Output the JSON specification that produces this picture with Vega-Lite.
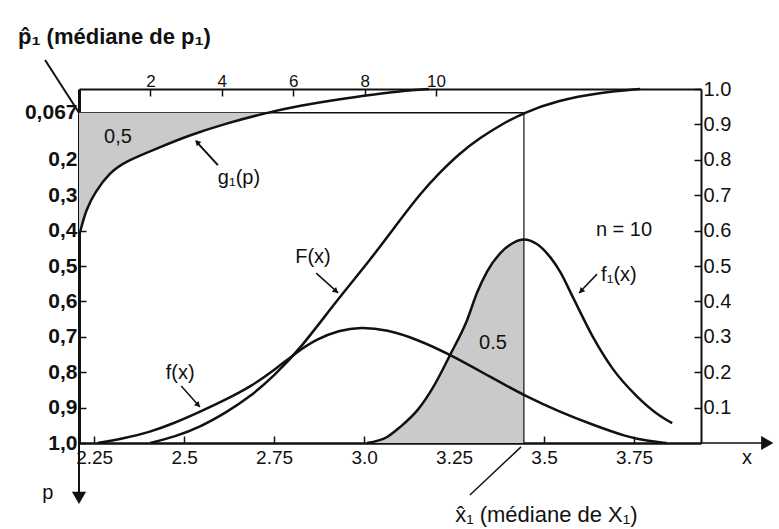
{
  "$schema": "https://vega.github.io/schema/vega-lite/v6.json",
  "width": 622,
  "height": 354,
  "autosize": {"type": "none"},
  "padding": {"left": 79, "top": 89, "right": 78, "bottom": 86},
  "background": "white",
  "config": {
    "view": {"stroke": null},
    "font": "Liberation Sans",
    "axis": {"grid": false, "domainColor": "#111", "tickColor": "#111", "labelColor": "#111", "title": null,
      "labelOverlap": false, "labelFlush": false, "labelBound": false}
  },
  "datasets": {
    "F": [
      {"x": 2.406, "y": 0}, {"x": 2.475, "y": 0.018}, {"x": 2.544, "y": 0.045}, {"x": 2.615, "y": 0.085},
      {"x": 2.683, "y": 0.13}, {"x": 2.75, "y": 0.19}, {"x": 2.822, "y": 0.265},
      {"x": 2.925, "y": 0.404}, {"x": 3.017, "y": 0.517}, {"x": 3.1, "y": 0.63}, {"x": 3.155, "y": 0.703},
      {"x": 3.211, "y": 0.765}, {"x": 3.265, "y": 0.818}, {"x": 3.322, "y": 0.862}, {"x": 3.385, "y": 0.902},
      {"x": 3.444, "y": 0.933}, {"x": 3.536, "y": 0.967}, {"x": 3.656, "y": 0.99}, {"x": 3.767, "y": 1.0}
    ],
    "f": [
      {"x": 2.26, "y": 0}, {"x": 2.33, "y": 0.012}, {"x": 2.406, "y": 0.031}, {"x": 2.475, "y": 0.057},
      {"x": 2.544, "y": 0.088}, {"x": 2.615, "y": 0.122}, {"x": 2.683, "y": 0.158}, {"x": 2.75, "y": 0.205},
      {"x": 2.814, "y": 0.258}, {"x": 2.869, "y": 0.294}, {"x": 2.93, "y": 0.318}, {"x": 2.989, "y": 0.328},
      {"x": 3.064, "y": 0.32}, {"x": 3.147, "y": 0.293}, {"x": 3.239, "y": 0.25}, {"x": 3.35, "y": 0.187},
      {"x": 3.453, "y": 0.13}, {"x": 3.544, "y": 0.088}, {"x": 3.636, "y": 0.051}, {"x": 3.731, "y": 0.017},
      {"x": 3.786, "y": 0.006}, {"x": 3.84, "y": 0}
    ],
    "f1": [
      {"x": 3.008, "y": 0}, {"x": 3.064, "y": 0.017}, {"x": 3.1, "y": 0.045}, {"x": 3.15, "y": 0.095},
      {"x": 3.192, "y": 0.158}, {"x": 3.239, "y": 0.249}, {"x": 3.286, "y": 0.347}, {"x": 3.314, "y": 0.425},
      {"x": 3.342, "y": 0.485}, {"x": 3.38, "y": 0.538}, {"x": 3.41, "y": 0.563}, {"x": 3.444, "y": 0.575},
      {"x": 3.48, "y": 0.562}, {"x": 3.517, "y": 0.525}, {"x": 3.544, "y": 0.485}, {"x": 3.581, "y": 0.41},
      {"x": 3.636, "y": 0.299}, {"x": 3.692, "y": 0.208}, {"x": 3.758, "y": 0.132}, {"x": 3.822, "y": 0.077},
      {"x": 3.856, "y": 0.056}
    ],
    "g1": [
      {"g": 0.03, "p": 0.404}, {"g": 0.2, "p": 0.34}, {"g": 0.45, "p": 0.291}, {"g": 0.87, "p": 0.235},
      {"g": 1.29, "p": 0.205}, {"g": 2.21, "p": 0.167}, {"g": 3.05, "p": 0.132}, {"g": 4.09, "p": 0.098},
      {"g": 5.25, "p": 0.067}, {"g": 6.2, "p": 0.047}, {"g": 7.2, "p": 0.03}, {"g": 8.3, "p": 0.015},
      {"g": 9.2, "p": 0.004}, {"g": 9.8, "p": 0.0}
    ]
  },
  "layer": [
    {
      "layer": [
        {
          "data": {"name": "f1"},
          "transform": [{"filter": "datum.x <= 3.4445"}],
          "mark": {"type": "area", "color": "#cacaca", "interpolate": "monotone"},
          "encoding": {
            "x": {"field": "x", "type": "quantitative",
              "scale": {"domain": [2.208, 3.936], "nice": false, "zero": false},
              "axis": {"orient": "bottom", "values": [2.25, 2.5, 2.75, 3.0, 3.25, 3.5, 3.75], "tickCount": 30,
                "labelExpr": "datum.value == 3 ? '3.0' : format(datum.value, '.3~f')", "tickSize": -7, "tickWidth": 1.5,
                "labelPadding": 12, "labelFontSize": 19, "domainWidth": 2.5, "title": null,
                "labelOverlap": false, "labelFlush": false, "labelBound": false}},
            "y": {"field": "y", "type": "quantitative",
              "scale": {"domain": [0, 1], "nice": false, "zero": false},
              "axis": {"orient": "right", "values": [0.1, 0.2, 0.3, 0.4, 0.5, 0.6, 0.7, 0.8, 0.9, 1.0], "tickCount": 30,
                "labelExpr": "format(datum.value, '.1f')", "tickSize": -7, "tickWidth": 1.5,
                "labelPadding": 9, "labelFontSize": 20, "domainWidth": 2, "title": null,
                "labelOverlap": false, "labelFlush": false, "labelBound": false}}
          }
        },
        {
          "data": {"values": [{"x": 3.444, "y": 0, "y2": 0.933}]},
          "mark": {"type": "rule", "color": "#111", "strokeWidth": 1.2},
          "encoding": {"x": {"field": "x", "type": "quantitative"}, "y": {"field": "y", "type": "quantitative"}, "y2": {"field": "y2"}}
        },
        {
          "data": {"values": [{"x": 2.208, "x2": 3.444, "y": 0.933}]},
          "mark": {"type": "rule", "color": "#111", "strokeWidth": 1.5},
          "encoding": {"x": {"field": "x", "type": "quantitative"}, "x2": {"field": "x2"}, "y": {"field": "y", "type": "quantitative"}}
        },
        {
          "data": {"name": "F"},
          "mark": {"type": "line", "color": "#111", "strokeWidth": 2.5, "interpolate": "basis"},
          "encoding": {"x": {"field": "x", "type": "quantitative"}, "y": {"field": "y", "type": "quantitative"}}
        },
        {
          "data": {"name": "f"},
          "mark": {"type": "line", "color": "#111", "strokeWidth": 2.5, "interpolate": "basis"},
          "encoding": {"x": {"field": "x", "type": "quantitative"}, "y": {"field": "y", "type": "quantitative"}}
        },
        {
          "data": {"name": "f1"},
          "mark": {"type": "line", "color": "#111", "strokeWidth": 2.5, "interpolate": "monotone"},
          "encoding": {"x": {"field": "x", "type": "quantitative"}, "y": {"field": "y", "type": "quantitative"}}
        },
        {
          "data": {"values": [
            {"x": 3.936, "x2": 4.11, "y": 0, "y2": 0},
            {"x": 2.867, "x2": 2.928, "y": 0.48, "y2": 0.424},
            {"x": 2.492, "x2": 2.544, "y": 0.161, "y2": 0.102},
            {"x": 3.647, "x2": 3.597, "y": 0.477, "y2": 0.424},
            {"x": 3.294, "x2": 3.436, "y": -0.147, "y2": -0.011}
          ]},
          "mark": {"type": "rule", "color": "#111", "strokeWidth": 1.5},
          "encoding": {"x": {"field": "x", "type": "quantitative"}, "x2": {"field": "x2"}, "y": {"field": "y", "type": "quantitative"}, "y2": {"field": "y2"}}
        },
        {
          "data": {"values": [{"x": 4.12, "y": 0}]},
          "mark": {"type": "point", "shape": "triangle-right", "filled": true, "color": "#111", "size": 200, "opacity": 1},
          "encoding": {"x": {"field": "x", "type": "quantitative"}, "y": {"field": "y", "type": "quantitative"}}
        },
        {
          "data": {"values": [{"x": 2.922, "y": 0.429}]},
          "mark": {"type": "point", "shape": "triangle-up", "filled": true, "color": "#111", "size": 40, "opacity": 1, "angle": 132},
          "encoding": {"x": {"field": "x", "type": "quantitative"}, "y": {"field": "y", "type": "quantitative"}}
        },
        {
          "data": {"values": [{"x": 2.539, "y": 0.107}]},
          "mark": {"type": "point", "shape": "triangle-up", "filled": true, "color": "#111", "size": 40, "opacity": 1, "angle": 136},
          "encoding": {"x": {"field": "x", "type": "quantitative"}, "y": {"field": "y", "type": "quantitative"}}
        },
        {
          "data": {"values": [{"x": 3.603, "y": 0.429}]},
          "mark": {"type": "point", "shape": "triangle-up", "filled": true, "color": "#111", "size": 40, "opacity": 1, "angle": 222},
          "encoding": {"x": {"field": "x", "type": "quantitative"}, "y": {"field": "y", "type": "quantitative"}}
        },
        {
          "data": {"values": [
            {"x": 2.858, "y": 0.525, "t": "F(x)"},
            {"x": 2.489, "y": 0.198, "t": "f(x)"},
            {"x": 3.708, "y": 0.475, "t": "f₁(x)"},
            {"x": 3.722, "y": 0.602, "t": "n = 10"},
            {"x": 3.358, "y": 0.282, "t": "0.5"},
            {"x": 4.064, "y": -0.042, "t": "x"}
          ]},
          "mark": {"type": "text", "color": "#111", "fontSize": 20, "align": "center", "baseline": "middle"},
          "encoding": {"x": {"field": "x", "type": "quantitative"}, "y": {"field": "y", "type": "quantitative"}, "text": {"field": "t"}}
        },
        {
          "data": {"values": [{"x": 3.253, "y": -0.203, "t": "x̂₁ (médiane de X₁)"}]},
          "mark": {"type": "text", "color": "#111", "fontSize": 22, "align": "left", "baseline": "middle"},
          "encoding": {"x": {"field": "x", "type": "quantitative"}, "y": {"field": "y", "type": "quantitative"}, "text": {"field": "t"}}
        }
      ]
    },
    {
      "layer": [
        {
          "data": {"name": "g1"},
          "transform": [{"filter": "datum.p >= 0.0669"}],
          "mark": {"type": "area", "orient": "horizontal", "color": "#cacaca", "interpolate": "basis"},
          "encoding": {
            "x": {"field": "g", "type": "quantitative",
              "scale": {"domain": [0, 17.42], "nice": false, "zero": true},
              "axis": {"orient": "top", "values": [2, 4, 6, 8, 10], "tickCount": 30, "tickSize": -7, "tickWidth": 1.5,
                "labelExpr": "format(datum.value, 'd')",
                "labelPadding": 6, "labelFontSize": 17, "domainWidth": 2, "title": null,
                "labelOverlap": false, "labelFlush": false, "labelBound": false}},
            "y": {"field": "p", "type": "quantitative",
              "scale": {"domain": [0, 1], "reverse": true, "nice": false, "zero": false},
              "axis": {"orient": "left", "values": [0.067, 0.2, 0.3, 0.4, 0.5, 0.6, 0.7, 0.8, 0.9, 1.0], "tickCount": 30,
                "labelExpr": "datum.value == 1 ? '1,0' : (datum.value < 0.1 ? '0,067' : '0,' + round(datum.value * 10))",
                "tickSize": -7, "tickWidth": 1.5, "labelPadding": 9, "labelFontSize": 21, "labelFontWeight": "bold",
                "domainWidth": 3, "title": null,
                "labelOverlap": false, "labelFlush": false, "labelBound": false}}
          }
        },
        {
          "data": {"name": "g1"},
          "mark": {"type": "line", "color": "#111", "strokeWidth": 2.5, "interpolate": "basis"},
          "encoding": {"x": {"field": "g", "type": "quantitative"}, "y": {"field": "p", "type": "quantitative"}}
        },
        {
          "data": {"values": [
            {"g": -0.95, "g2": 0, "p": -0.082, "p2": 0.067},
            {"g": 0, "g2": 0, "p": 1.0, "p2": 1.14},
            {"g": 3.89, "g2": 3.28, "p": 0.215, "p2": 0.148}
          ]},
          "mark": {"type": "rule", "color": "#111", "strokeWidth": 2},
          "encoding": {"x": {"field": "g", "type": "quantitative"}, "x2": {"field": "g2"}, "y": {"field": "p", "type": "quantitative"}, "y2": {"field": "p2"}}
        },
        {
          "data": {"values": [{"g": 0, "p": 1.155}]},
          "mark": {"type": "point", "shape": "triangle-down", "filled": true, "color": "#111", "size": 200, "opacity": 1},
          "encoding": {"x": {"field": "g", "type": "quantitative"}, "y": {"field": "p", "type": "quantitative"}}
        },
        {
          "data": {"values": [{"g": 3.31, "p": 0.15}]},
          "mark": {"type": "point", "shape": "triangle-up", "filled": true, "color": "#111", "size": 40, "opacity": 1, "angle": 317},
          "encoding": {"x": {"field": "g", "type": "quantitative"}, "y": {"field": "p", "type": "quantitative"}}
        },
        {
          "data": {"values": [
            {"g": 1.09, "p": 0.136, "t": "0,5"},
            {"g": 4.48, "p": 0.251, "t": "g₁(p)"},
            {"g": -0.87, "p": 1.141, "t": "p"}
          ]},
          "mark": {"type": "text", "color": "#111", "fontSize": 20, "align": "center", "baseline": "middle"},
          "encoding": {"x": {"field": "g", "type": "quantitative"}, "y": {"field": "p", "type": "quantitative"}, "text": {"field": "t"}}
        },
        {
          "data": {"values": [{"g": -1.71, "p": -0.147, "t": "p̂₁ (médiane de p₁)"}]},
          "mark": {"type": "text", "color": "#111", "fontSize": 22, "fontWeight": "bold", "align": "left", "baseline": "middle"},
          "encoding": {"x": {"field": "g", "type": "quantitative"}, "y": {"field": "p", "type": "quantitative"}, "text": {"field": "t"}}
        }
      ]
    }
  ],
  "resolve": {"scale": {"x": "independent", "y": "independent"}}
}
